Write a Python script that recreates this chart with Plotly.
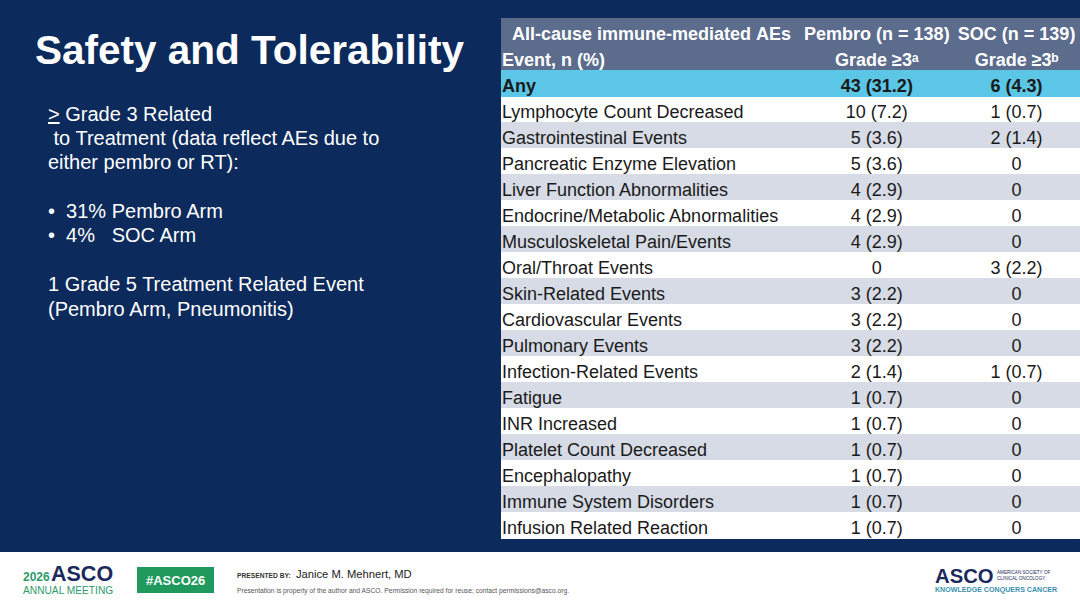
import plotly.graph_objects as go

# Table data: immune-mediated AEs, grade >=3
events = ["Lymphocyte Count Decreased", "Gastrointestinal Events", "Pancreatic Enzyme Elevation",
          "Liver Function Abnormalities", "Endocrine/Metabolic Abnormalities", "Musculoskeletal Pain/Events",
          "Oral/Throat Events", "Skin-Related Events", "Cardiovascular Events", "Pulmonary Events",
          "Infection-Related Events", "Fatigue", "INR Increased", "Platelet Count Decreased",
          "Encephalopathy", "Immune System Disorders", "Infusion Related Reaction"]
pembro_n = [10, 5, 5, 4, 4, 4, 0, 3, 3, 3, 2, 1, 1, 1, 1, 1, 1]
pembro_pct = [7.2, 3.6, 3.6, 2.9, 2.9, 2.9, 0, 2.2, 2.2, 2.2, 1.4, 0.7, 0.7, 0.7, 0.7, 0.7, 0.7]
soc_n = [1, 2, 0, 0, 0, 0, 3, 0, 0, 0, 1, 0, 0, 0, 0, 0, 0]
soc_pct = [0.7, 1.4, 0, 0, 0, 0, 2.2, 0, 0, 0, 0.7, 0, 0, 0, 0, 0, 0]
any_pembro = (43, 31.2)
any_soc = (6, 4.3)

header_top = ["All-cause immune-mediated AEs", "Pembro (n = 138)", "SOC (n = 139)"]
header_sub = ["Event, n (%)", "Grade ≥3ᵃ", "Grade ≥3ᵇ"]

NAVY = "#0c2a5b"
HEAD = "#5b6c8c"
CYAN = "#5bc6e6"
GRAY = "#d6dbe5"
INK = "#1a1a1a"
FONT = "Liberation Sans"
NB = "\u00a0"


def fmt(n, pct):
    """n (pct) or plain 0 when there are no events"""
    if n == 0:
        return "0"
    return f"{n} ({pct})"


def nowrap(s):
    # plotly tables wrap on spaces, keep header lines on one line
    return s.replace(" ", NB)


# bold rows (two header lines + the "Any" row) go in the table header
any_row = ["Any", fmt(*any_pembro), fmt(*any_soc)]
head_vals = [[nowrap(t), nowrap(s), nowrap(a)] for t, s, a in zip(header_top, header_sub, any_row)]
head_vals[0][0] = NB * 2 + head_vals[0][0]
head_fill = [[HEAD, HEAD, CYAN]] * 3
head_color = [["white", "white", INK]] * 3

col_event = events
col_pembro = [fmt(n, p) for n, p in zip(pembro_n, pembro_pct)]
col_soc = [fmt(n, p) for n, p in zip(soc_n, soc_pct)]
row_fill = ["white" if i % 2 == 0 else GRAY for i in range(len(events))]

fig = go.Figure()

# borders take the fill colour so no seams show between columns
fig.add_trace(go.Table(
    domain=dict(x=[494 / 1080, 1], y=[1 - 545 / 608, 1 - 18 / 608]),
    columnwidth=[306, 155, 125],
    header=dict(
        values=head_vals,
        fill_color=head_fill,
        font=dict(family=FONT, size=18, color=head_color, weight="bold"),
        align=["left", "center", "center"],
        height=26,
        line=dict(width=1, color=head_fill),
    ),
    cells=dict(
        values=[col_event, col_pembro, col_soc],
        fill_color=[row_fill, row_fill, row_fill],
        font=dict(family=FONT, size=18, color=INK),
        align=["left", "center", "center"],
        height=26,
        line=dict(width=1, color=[row_fill, row_fill, row_fill]),
    ),
))

# Slide backgrounds
fig.add_shape(type="rect", xref="paper", yref="paper", x0=0, x1=1, y0=0, y1=56 / 608,
              fillcolor="white", line_width=0, layer="below")
# trims the table's inner padding so text lines up with the fill edge
fig.add_shape(type="rect", xref="paper", yref="paper", x0=492 / 1080, x1=501 / 1080,
              y0=1 - 546 / 608, y1=1 - 12 / 608, fillcolor=NAVY, line_width=0, layer="above")

# Title
fig.add_annotation(text="<b>Safety and Tolerability</b>", x=33 / 1080, y=1 - 50 / 608,
                   font=dict(family=FONT, size=40.5, color="white"))

# Left-hand notes
notes = [
    ("<u>></u> Grade 3 Related", 114),
    (NB + "to Treatment (data reflect AEs due to", 138),
    ("either pembro or RT):", 162),
    ("•  31% Pembro Arm", 211),
    ("•  4%" + NB * 3 + "SOC Arm", 235),
    ("1 Grade 5 Treatment Related Event", 284),
    ("(Pembro Arm, Pneumonitis)", 309),
]
for txt, y in notes:
    fig.add_annotation(text=txt, x=46 / 1080, y=1 - y / 608,
                       font=dict(family=FONT, size=20, color="white"))

# Footer
footer = [
    ("<b>2026</b>", 22, 577, 12, "#2e9a6b"),
    ("<b>ASCO</b>", 50, 573.5, 21.5, "#1b2a5c"),
    ("ANNUAL MEETING", 22, 590, 10.2, "#2e9a6b"),
    ("<b>PRESENTED BY:</b>", 236, 575.5, 6.7, "#333333"),
    ("Janice M. Mehnert, MD", 295, 574, 11.2, "#222222"),
    ("Presentation is property of the author and ASCO. Permission required for reuse; contact permissions@asco.org.",
     236, 590.5, 6.7, "#555555"),
    ("<b>ASCO</b>", 934, 576, 20.3, "#1b2a5c"),
    ("AMERICAN SOCIETY OF", 996, 572.5, 4.6, "#1b2a5c"),
    ("CLINICAL ONCOLOGY", 996, 578.5, 4.6, "#1b2a5c"),
    ("<b>KNOWLEDGE CONQUERS CANCER</b>", 934, 590, 7.1, "#3a8fae"),
]
for txt, x, y, size, color in footer:
    fig.add_annotation(text=txt, x=x / 1080, y=1 - y / 608, borderpad=0,
                       font=dict(family=FONT, size=size, color=color))

fig.add_shape(type="rect", xref="paper", yref="paper", x0=137 / 1080, x1=214 / 1080,
              y0=1 - 593 / 608, y1=1 - 567 / 608, fillcolor="#1f9a5c", line_width=0)
fig.add_annotation(text="<b>#ASCO26</b>", x=175.5 / 1080, y=1 - 580 / 608, xanchor="center",
                   font=dict(family=FONT, size=13, color="white"))

fig.update_annotations(xref="paper", yref="paper", showarrow=False, yanchor="middle")
for a in fig.layout.annotations:
    if a.xanchor is None:
        a.xanchor = "left"

fig.update_layout(
    width=1080, height=608,
    margin=dict(l=0, r=0, t=0, b=0),
    paper_bgcolor=NAVY,
    plot_bgcolor=NAVY,
    xaxis=dict(visible=False),
    yaxis=dict(visible=False),
    showlegend=False,
)

fig.write_html("out.html", config={"displayModeBar": False},
               post_script="document.body.style.margin = '0';")
